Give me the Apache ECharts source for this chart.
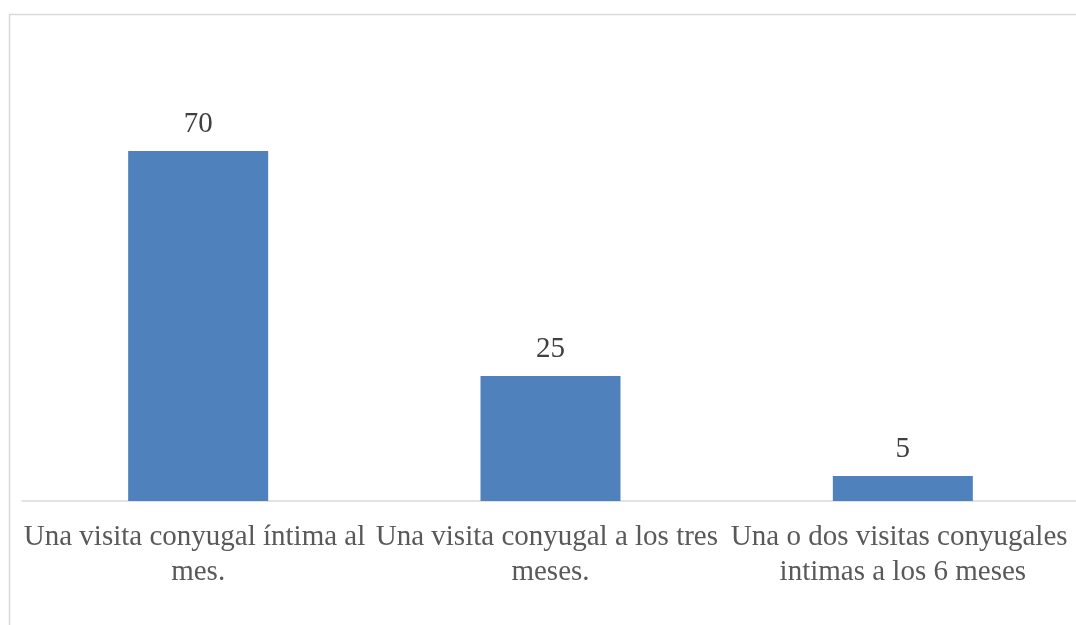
<!DOCTYPE html>
<html>
<head>
<meta charset="utf-8">
<script src="https://cdn.jsdelivr.net/npm/echarts@6/dist/echarts.min.js"></script>
<style>
html,body{margin:0;padding:0;background:#fff;}
#chart{width:1076px;height:625px;}
</style>
</head>
<body>
<div id="chart"></div>
<script>
const categories = [
  "Una visita conyugal íntima al mes.",
  "Una visita conyugal a los tres meses.",
  "Una o dos visitas conyugales intimas a los 6 meses"
];
const values = [70, 25, 5];

const chart = echarts.init(document.getElementById('chart'), null, {renderer: 'canvas'});
chart.setOption({
  animation: false,
  backgroundColor: '#ffffff',
  graphic: [{
    type: 'rect',
    shape: {x: 9.5, y: 14.5, width: 1200, height: 800},
    style: {fill: 'none', stroke: '#d9d9d9', lineWidth: 1.5},
    silent: true
  }],
  grid: {left: 22, right: -3, top: 101, bottom: 124, containLabel: false, outerBoundsMode: 'none'},
  xAxis: {
    type: 'category',
    data: categories,
    axisLine: {show: true, lineStyle: {color: '#d9d9d9', width: 1.5}},
    axisTick: {show: false},
    axisLabel: {
      interval: 0,
      margin: 19,
      color: '#595959',
      fontFamily: '"Liberation Serif", "Times New Roman", serif',
      fontSize: 29,
      lineHeight: 35,
      width: 372,
      overflow: 'break',
      align: 'center'
    }
  },
  yAxis: {
    type: 'value',
    min: 0,
    max: 80,
    show: false,
    splitLine: {show: false}
  },
  series: [{
    type: 'bar',
    data: values,
    barWidth: 140,
    itemStyle: {color: '#4f81bd'},
    label: {
      show: true,
      position: 'top',
      distance: 12,
      color: '#404040',
      fontFamily: '"Liberation Serif", "Times New Roman", serif',
      fontSize: 29,
      lineHeight: 29
    }
  }]
});
</script>
</body>
</html>
